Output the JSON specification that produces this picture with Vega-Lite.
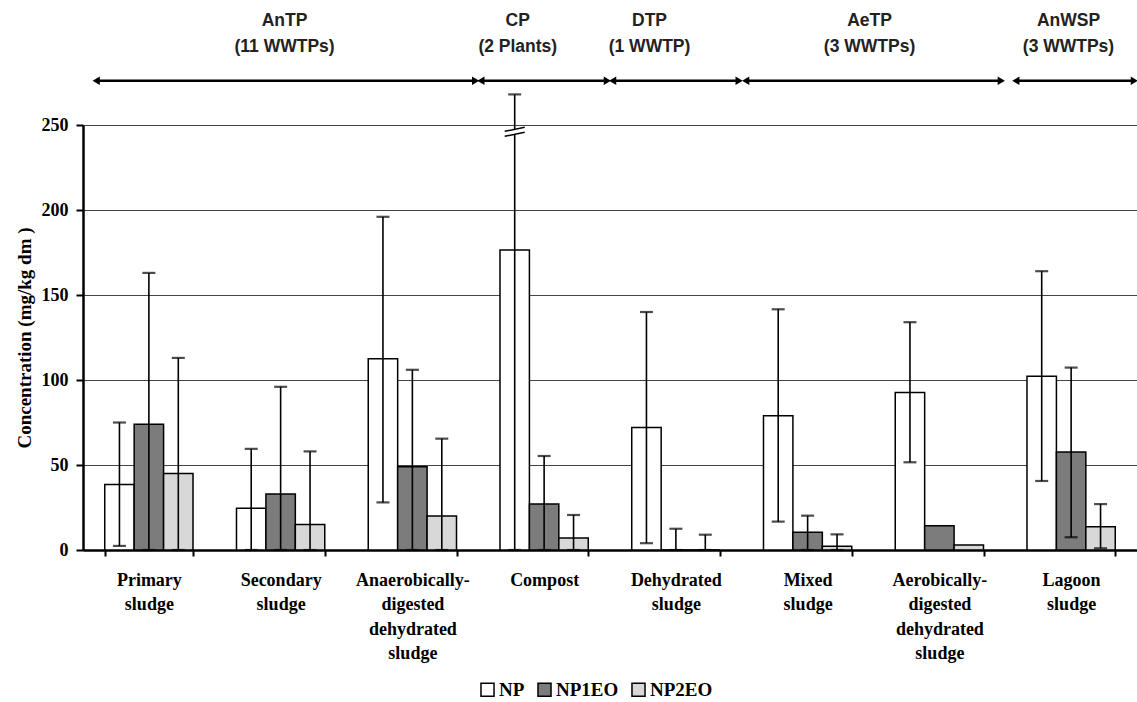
{
  "$schema": "https://vega.github.io/schema/vega-lite/v6.json",
  "width": 1054,
  "height": 425,
  "autosize": {"type": "none"},
  "padding": {"left": 83, "top": 125, "right": 0, "bottom": 152},
  "background": "white",
  "config": {
    "view": {"stroke": null},
    "font": "Liberation Serif",
    "axis": {"labelColor": "black", "titleColor": "black"},
    "legend": {
      "orient": "none",
      "legendX": 395,
      "legendY": 555,
      "direction": "horizontal",
      "symbolType": "square",
      "symbolSize": 170,
      "symbolStrokeColor": "black",
      "symbolStrokeWidth": 1.5,
      "labelFont": "Liberation Serif",
      "labelFontWeight": "bold",
      "labelFontSize": 19,
      "labelColor": "black",
      "labelOffset": 2,
      "columnPadding": 9
    }
  },
  "datasets": {
    "bars": [
      {"category": "Primary sludge", "series": "NP", "value": 38.5, "lo": 2.4, "hi": 75},
      {"category": "Primary sludge", "series": "NP1EO", "value": 74, "lo": 0, "hi": 163},
      {"category": "Primary sludge", "series": "NP2EO", "value": 45, "lo": 0, "hi": 113},
      {"category": "Secondary sludge", "series": "NP", "value": 24.5, "lo": 0, "hi": 59.5},
      {"category": "Secondary sludge", "series": "NP1EO", "value": 33, "lo": 0, "hi": 96},
      {"category": "Secondary sludge", "series": "NP2EO", "value": 15, "lo": 0, "hi": 58},
      {"category": "Anaerobically-digested dehydrated sludge", "series": "NP", "value": 112.5, "lo": 28, "hi": 196},
      {"category": "Anaerobically-digested dehydrated sludge", "series": "NP1EO", "value": 49, "lo": 0, "hi": 106},
      {"category": "Anaerobically-digested dehydrated sludge", "series": "NP2EO", "value": 20, "lo": 0, "hi": 65.5},
      {"category": "Compost", "series": "NP", "value": 176.5, "lo": 0, "hi": 268},
      {"category": "Compost", "series": "NP1EO", "value": 27, "lo": 0, "hi": 55.3},
      {"category": "Compost", "series": "NP2EO", "value": 7, "lo": 0, "hi": 20.6},
      {"category": "Dehydrated sludge", "series": "NP", "value": 72, "lo": 4, "hi": 140},
      {"category": "Dehydrated sludge", "series": "NP1EO", "value": 0, "lo": 0, "hi": 12.5},
      {"category": "Dehydrated sludge", "series": "NP2EO", "value": 0, "lo": 0, "hi": 9},
      {"category": "Mixed sludge", "series": "NP", "value": 79, "lo": 16.7, "hi": 141.6},
      {"category": "Mixed sludge", "series": "NP1EO", "value": 10.4, "lo": 0, "hi": 20.2},
      {"category": "Mixed sludge", "series": "NP2EO", "value": 2.2, "lo": 0, "hi": 9.2},
      {"category": "Aerobically-digested dehydrated sludge", "series": "NP", "value": 92.7, "lo": 51.6, "hi": 134},
      {"category": "Aerobically-digested dehydrated sludge", "series": "NP1EO", "value": 14.2, "lo": null, "hi": null},
      {"category": "Aerobically-digested dehydrated sludge", "series": "NP2EO", "value": 3, "lo": null, "hi": null},
      {"category": "Lagoon sludge", "series": "NP", "value": 102.2, "lo": 40.6, "hi": 164},
      {"category": "Lagoon sludge", "series": "NP1EO", "value": 57.6, "lo": 7.5, "hi": 107.3},
      {"category": "Lagoon sludge", "series": "NP2EO", "value": 13.7, "lo": 1, "hi": 27}
    ],
    "groups": [
      {"name": "AnTP", "sub": "(11 WWTPs)", "start": 0.1, "end": 2.98, "mid": 1.53},
      {"name": "CP", "sub": "(2 Plants)", "start": 3.02, "end": 3.98, "mid": 3.3},
      {"name": "DTP", "sub": "(1 WWTP)", "start": 4.02, "end": 4.98, "mid": 4.3},
      {"name": "AeTP", "sub": "(3 WWTPs)", "start": 5.03, "end": 6.97, "mid": 5.97},
      {"name": "AnWSP", "sub": "(3 WWTPs)", "start": 7.08, "end": 7.98, "mid": 7.48}
    ],
    "brk": [
      {"category": "Compost", "series": "NP", "at": 246}
    ]
  },
  "resolve": {"scale": {"x": "independent"}},
  "layer": [
    {
      "layer": [
        {
          "data": {"name": "bars"},
          "mark": {"type": "bar", "stroke": "black", "strokeWidth": 1.5},
          "encoding": {
            "x": {
              "field": "category", "type": "nominal", "sort": null,
              "scale": {"paddingInner": 0.33, "paddingOuter": 0.165},
              "axis": {
                "title": null,
                "labelAngle": 0,
                "labelFont": "Liberation Serif",
                "labelFontWeight": "bold",
                "labelFontSize": 18,
                "labelLineHeight": 24.5,
                "labelBaseline": "top",
                "labelPadding": 15,
                "labelExpr": "isValid(datum.value) ? split(replace(datum.value, '-', '- '), ' ') : ''",
                "domainColor": "black",
                "domainWidth": 2.5,
                "tickBand": "extent",
                "tickColor": "black",
                "tickWidth": 2,
                "tickSize": 6,
                "grid": false
              }
            },
            "xOffset": {"field": "series", "type": "nominal", "sort": ["NP", "NP1EO", "NP2EO"], "scale": {"paddingInner": 0, "paddingOuter": 0}},
            "y": {
              "field": "value", "type": "quantitative",
              "scale": {"domain": [0, 250], "nice": false},
              "axis": {
                "title": "Concentration (mg/kg dm )",
                "titleFont": "Liberation Serif",
                "titleFontWeight": "bold",
                "titleFontSize": 19,
                "titlePadding": 7,
                "values": [0, 50, 100, 150, 200, 250],
                "labelFont": "Liberation Serif",
                "labelFontWeight": "bold",
                "labelFontSize": 18,
                "labelPadding": 8,
                "domainColor": "black",
                "domainWidth": 2.5,
                "tickColor": "black",
                "tickWidth": 2,
                "tickSize": 7,
                "grid": true,
                "gridColor": "#444444",
                "gridWidth": 1.2
              }
            },
            "fill": {
              "field": "series", "type": "nominal",
              "scale": {"domain": ["NP", "NP1EO", "NP2EO"], "range": ["#ffffff", "#7c7c7c", "#d8d8d8"]},
              "legend": {"title": null}
            }
          }
        },
        {
          "data": {"name": "bars"},
          "mark": {"type": "rule", "color": "black", "strokeWidth": 1.6},
          "encoding": {
            "x": {"field": "category", "type": "nominal", "sort": null},
            "xOffset": {"field": "series", "type": "nominal", "sort": ["NP", "NP1EO", "NP2EO"]},
            "y": {"field": "lo", "type": "quantitative"},
            "y2": {"field": "hi"}
          }
        },
        {
          "data": {"name": "bars"},
          "mark": {"type": "tick", "color": "black", "thickness": 2.2, "size": 13},
          "encoding": {
            "x": {"field": "category", "type": "nominal", "sort": null},
            "xOffset": {"field": "series", "type": "nominal", "sort": ["NP", "NP1EO", "NP2EO"]},
            "y": {"field": "hi", "type": "quantitative"}
          }
        },
        {
          "data": {"name": "bars"},
          "mark": {"type": "tick", "color": "black", "thickness": 2.2, "size": 13},
          "encoding": {
            "x": {"field": "category", "type": "nominal", "sort": null},
            "xOffset": {"field": "series", "type": "nominal", "sort": ["NP", "NP1EO", "NP2EO"]},
            "y": {"field": "lo", "type": "quantitative"}
          }
        },
        {
          "data": {"name": "brk"},
          "mark": {"type": "point", "shape": "M -1 -0.05 L 1 -0.45 L 1 0.05 L -1 0.45 Z", "size": 400, "filled": true, "fill": "white", "strokeWidth": 0, "opacity": 1},
          "encoding": {
            "x": {"field": "category", "type": "nominal", "sort": null},
            "xOffset": {"field": "series", "type": "nominal", "sort": ["NP", "NP1EO", "NP2EO"]},
            "y": {"field": "at", "type": "quantitative"}
          }
        },
        {
          "data": {"name": "brk"},
          "mark": {"type": "point", "shape": "M -1 -0.05 L 1 -0.45 M -1 0.45 L 1 0.05", "size": 400, "filled": false, "stroke": "black", "strokeWidth": 1.5, "opacity": 1},
          "encoding": {
            "x": {"field": "category", "type": "nominal", "sort": null},
            "xOffset": {"field": "series", "type": "nominal", "sort": ["NP", "NP1EO", "NP2EO"]},
            "y": {"field": "at", "type": "quantitative"}
          }
        }
      ]
    },
    {
      "data": {"name": "groups"},
      "layer": [
        {
          "mark": {"type": "rule", "color": "black", "strokeWidth": 2.5},
          "encoding": {
            "x": {"field": "start", "type": "quantitative", "scale": {"domain": [0, 8], "nice": false, "zero": false}, "axis": null},
            "x2": {"field": "end"},
            "y": {"datum": 276}
          }
        },
        {
          "mark": {"type": "point", "shape": "triangle-left", "size": 70, "filled": true, "color": "black", "opacity": 1},
          "encoding": {
            "x": {"field": "start", "type": "quantitative", "scale": {"domain": [0, 8], "nice": false, "zero": false}, "axis": null},
            "y": {"datum": 276}
          }
        },
        {
          "mark": {"type": "point", "shape": "triangle-right", "size": 70, "filled": true, "color": "black", "opacity": 1},
          "encoding": {
            "x": {"field": "end", "type": "quantitative", "scale": {"domain": [0, 8], "nice": false, "zero": false}, "axis": null},
            "y": {"datum": 276}
          }
        },
        {
          "mark": {"type": "text", "font": "Liberation Sans", "fontWeight": "bold", "fontSize": 17.5, "color": "#222222", "baseline": "middle"},
          "encoding": {
            "x": {"field": "mid", "type": "quantitative", "scale": {"domain": [0, 8], "nice": false, "zero": false}, "axis": null},
            "y": {"datum": 311},
            "text": {"field": "name"}
          }
        },
        {
          "mark": {"type": "text", "font": "Liberation Sans", "fontWeight": "bold", "fontSize": 17.5, "color": "#222222", "baseline": "middle"},
          "encoding": {
            "x": {"field": "mid", "type": "quantitative", "scale": {"domain": [0, 8], "nice": false, "zero": false}, "axis": null},
            "y": {"datum": 296},
            "text": {"field": "sub"}
          }
        }
      ]
    }
  ]
}
